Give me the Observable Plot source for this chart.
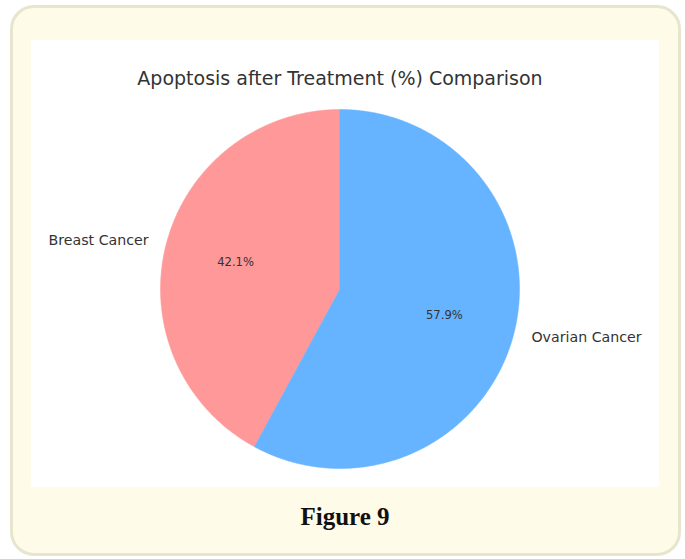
<!DOCTYPE html>
<html><head><meta charset="utf-8">
<script src="https://cdn.jsdelivr.net/npm/d3@7"></script>
<script src="https://cdn.jsdelivr.net/npm/@observablehq/plot@0.6"></script>
<style>
html,body{margin:0;padding:0;background:#fff;width:685px;height:559px;overflow:hidden;}
#frame{position:absolute;left:10px;top:5px;width:665px;height:545px;border:3px solid #e7e5cd;border-radius:24px;background:#fefbe8;}
#panel{position:absolute;left:31px;top:40px;width:628px;height:447px;background:#fff;}
#cap{position:absolute;left:31px;width:628px;top:503px;text-align:center;font-family:"Liberation Serif",serif;font-weight:bold;font-size:25px;color:#111;}
</style></head>
<body>
<div id="frame"></div>
<div id="panel"></div>
<div id="cap">Figure 9</div>
<script>
const title = "Apoptosis after Treatment (%) Comparison";
const labels = ["Breast Cancer", "Ovarian Cancer"];
const values = [42.1, 57.9];
const colors = ["#ff9999", "#66b3ff"];

const total = d3.sum(values);
const startDeg = 90;
let cum = 0;
const slices = labels.map((label, i) => {
  const a0 = startDeg + 360 * cum / total;
  cum += values[i];
  const a1 = startDeg + 360 * cum / total;
  return {label, value: values[i], a0, a1, mid: (a0 + a1) / 2};
});
const rad = d => d * Math.PI / 180;
const pts = [];
for (const s of slices) {
  pts.push({label: s.label, x: 0, y: 0});
  const n = Math.max(2, Math.ceil((s.a1 - s.a0) / 0.5));
  for (let k = 0; k <= n; k++) {
    const a = rad(s.a0 + (s.a1 - s.a0) * k / n);
    pts.push({label: s.label, x: Math.cos(a), y: Math.sin(a)});
  }
  pts.push({label: s.label, x: 0, y: 0});
}
const outer = slices.map(s => ({label: s.label, x: 1.1 * Math.cos(rad(s.mid)), y: 1.1 * Math.sin(rad(s.mid)), left: Math.cos(rad(s.mid)) >= 0}));
const inner = slices.map(s => ({pct: d3.format(".1f")(100 * s.value / total) + "%", x: 0.6 * Math.cos(rad(s.mid)), y: 0.6 * Math.sin(rad(s.mid))}));

const W = 628, H = 447, cx = 308.5, cy = 248.5, R = 179.5;
const chart = Plot.plot({
  width: W, height: H, margin: 0,
  style: {background: "transparent", fontFamily: "'DejaVu Sans', sans-serif"},
  x: {domain: [-cx / R, (W - cx) / R], axis: null},
  y: {domain: [-(H - cy) / R, cy / R], axis: null},
  color: {domain: labels, range: colors},
  marks: [
    Plot.line(pts, {x: "x", y: "y", z: "label", fill: "label", stroke: "label", strokeWidth: 0.5, curve: "linear"}),
    Plot.text(outer.filter(d => !d.left), {x: "x", y: "y", text: "label", textAnchor: "end", fontSize: 14.2, fill: "#333"}),
    Plot.text(outer.filter(d => d.left), {x: "x", y: "y", text: "label", textAnchor: "start", fontSize: 14.2, fill: "#333"}),
    Plot.text(inner, {x: "x", y: "y", text: "pct", fontSize: 11.6, fill: "#333"}),
    Plot.text([title], {frameAnchor: "top", dx: -5.5, dy: 38, lineAnchor: "middle", fontSize: 19, fill: "#333"})
  ]
});
document.getElementById("panel").appendChild(chart);
</script>
</body></html>
